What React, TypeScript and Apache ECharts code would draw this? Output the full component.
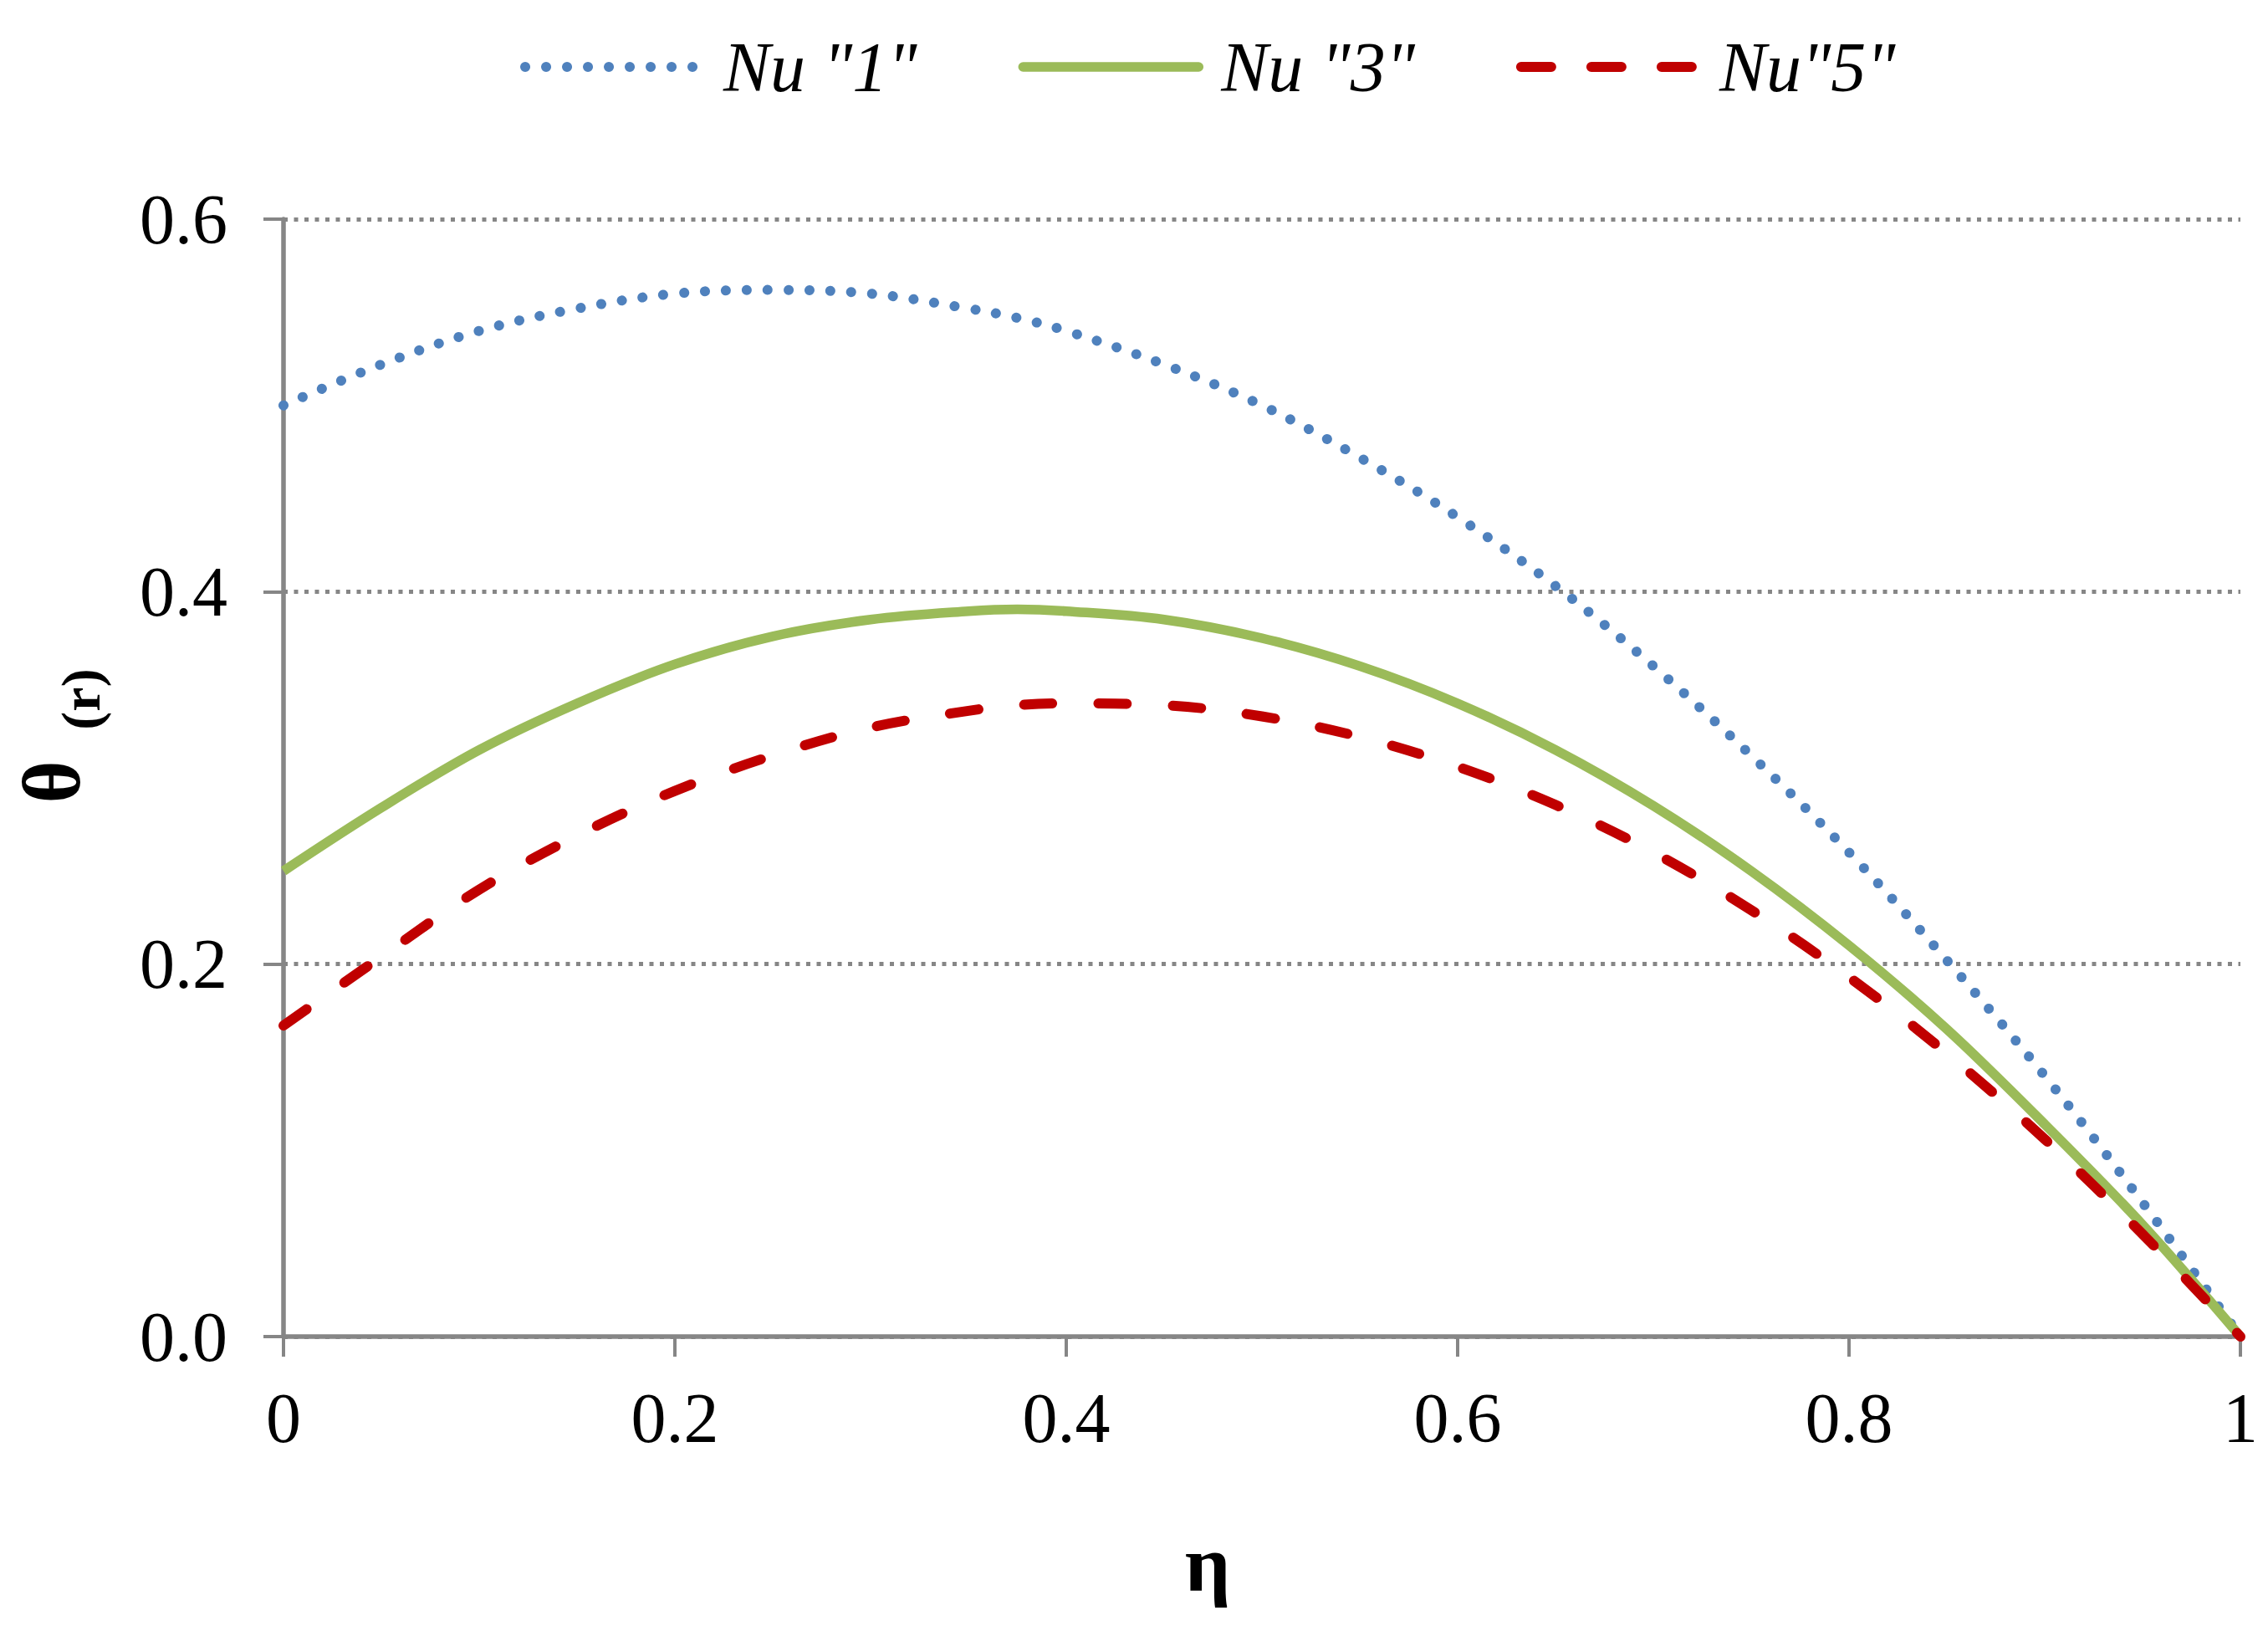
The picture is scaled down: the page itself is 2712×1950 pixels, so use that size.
import React, { useEffect, useRef } from "react";
import * as echarts from "echarts";

// η positions where the curves were read
const etaValues = [0, 0.05, 0.1, 0.15, 0.2, 0.25, 0.3, 0.35, 0.375, 0.4, 0.45, 0.5, 0.55, 0.6, 0.65, 0.7, 0.75, 0.8, 0.85, 0.9, 0.95, 1];
// θ(r)
const nu1Values = [0.5, 0.522, 0.54, 0.552, 0.56, 0.562, 0.56, 0.552, 0.547, 0.54, 0.522, 0.5, 0.472, 0.44, 0.403, 0.36, 0.312, 0.26, 0.202, 0.14, 0.072, 0.0];
const nu3Values = [0.25, 0.284, 0.315, 0.34, 0.361, 0.376, 0.385, 0.3895, 0.3905, 0.3895, 0.385, 0.375, 0.36, 0.34, 0.315, 0.285, 0.25, 0.21, 0.165, 0.114, 0.06, 0.0];
const nu5Values = [0.167, 0.204, 0.24, 0.269, 0.293, 0.312, 0.327, 0.336, 0.339, 0.34, 0.339, 0.333, 0.322, 0.306, 0.2855, 0.26, 0.229, 0.193, 0.152, 0.106, 0.055, 0.0];

const seriesNames = ['Nu "1"', 'Nu "3"', 'Nu"5"'];
const xTickLabels = ["0", "0.2", "0.4", "0.6", "0.8", "1"];
const yTickLabels = ["0.0", "0.2", "0.4", "0.6"];
const xAxisTitle = "η";
const yAxisTitleMain = "θ";
const yAxisTitleSub = "(r)";

const FONT = "'Liberation Serif', 'Times New Roman', serif";
const GRAY = "#868686";
const BLUE = "#4F81BD";
const GREEN = "#9BBB59";
const RED = "#C00000";

const blueLine = { color: BLUE, width: 12, type: [0.1, 24.9], cap: "round" };
const greenLine = { color: GREEN, width: 11.5, type: "solid", cap: "butt" };
const redLine = { color: RED, width: 12, type: [34, 55], cap: "round" };
const hiddenSymbol = { opacity: 0, color: "rgba(0,0,0,0)", borderWidth: 0 };

export default function App() {
  const ref = useRef<HTMLDivElement>(null);

  useEffect(() => {
    document.body.style.margin = "0";
    if (!ref.current) return;
    const chart = echarts.init(ref.current, undefined, { renderer: "svg" });
    const toPairs = (vals: number[]) => etaValues.map((x, i) => [x, vals[i]]);

    chart.setOption({
      animation: false,
      backgroundColor: "#fff",
      grid: { left: 339, right: 33, top: 262, bottom: 352, containLabel: false, outerBoundsMode: "none" },
      legend: {
        left: 617,
        top: 33,
        itemWidth: 210,
        itemHeight: 20,
        itemGap: 121,
        textStyle: { fontFamily: FONT, fontSize: 84, fontStyle: "italic", color: "#000", padding: [0, 0, 0, 22] },
        data: [
          { name: seriesNames[0], lineStyle: blueLine, itemStyle: hiddenSymbol },
          { name: seriesNames[1], lineStyle: { ...greenLine, cap: "round" }, itemStyle: hiddenSymbol },
          { name: seriesNames[2], lineStyle: { ...redLine, type: [36, 48] }, itemStyle: hiddenSymbol },
        ],
      },
      xAxis: {
        type: "value",
        min: 0,
        max: 1,
        interval: 0.2,
        axisLine: { show: true, onZero: false, lineStyle: { color: GRAY, width: 5.5 } },
        axisTick: { show: true, length: 24, lineStyle: { color: GRAY, width: 4 } },
        axisLabel: {
          margin: 55,
          fontFamily: FONT,
          fontSize: 84,
          color: "#000",
          formatter: (v: number) => xTickLabels[Math.round(v / 0.2)],
        },
        splitLine: { show: false },
      },
      yAxis: {
        type: "value",
        min: 0,
        max: 0.6,
        interval: 0.2,
        axisLine: { show: true, onZero: false, lineStyle: { color: GRAY, width: 5.5 } },
        axisTick: { show: true, length: 24, lineStyle: { color: GRAY, width: 4 } },
        axisLabel: {
          margin: 67,
          fontFamily: FONT,
          fontSize: 84,
          color: "#000",
          formatter: (v: number) => yTickLabels[Math.round(v / 0.2)],
        },
        splitLine: { show: true, lineStyle: { color: GRAY, width: 5, type: [5, 7.5] } },
      },
      series: [
        {
          type: "line",
          name: seriesNames[0],
          data: toPairs(nu1Values),
          smooth: 0.35,
          symbol: "none",
          itemStyle: { color: BLUE },
          lineStyle: blueLine,
        },
        {
          type: "line",
          name: seriesNames[1],
          data: toPairs(nu3Values),
          smooth: 0.35,
          symbol: "none",
          itemStyle: { color: GREEN },
          lineStyle: greenLine,
        },
        {
          type: "line",
          name: seriesNames[2],
          data: toPairs(nu5Values),
          smooth: 0.35,
          symbol: "none",
          itemStyle: { color: RED },
          lineStyle: redLine,
        },
      ],
      graphic: [
        {
          type: "text",
          x: 62,
          y: 935,
          rotation: Math.PI / 2,
          style: {
            text: yAxisTitleMain,
            fontFamily: FONT,
            fontSize: 98,
            fontWeight: "bold",
            fill: "#000",
            align: "center",
            verticalAlign: "middle",
          },
        },
        {
          type: "text",
          x: 96,
          y: 836,
          rotation: Math.PI / 2,
          style: {
            text: yAxisTitleSub,
            fontFamily: FONT,
            fontSize: 66,
            fontWeight: "bold",
            fill: "#000",
            align: "center",
            verticalAlign: "middle",
          },
        },
        {
          type: "text",
          x: 1444,
          y: 1869,
          style: {
            text: xAxisTitle,
            fontFamily: FONT,
            fontSize: 96,
            fontWeight: "bold",
            fill: "#000",
            align: "center",
            verticalAlign: "middle",
          },
        },
      ],
    });

    return () => chart.dispose();
  }, []);

  return (
    <div
      ref={ref}
      style={{ position: "fixed", left: 0, top: 0, width: 2712, height: 1950, background: "#fff" }}
    />
  );
}
